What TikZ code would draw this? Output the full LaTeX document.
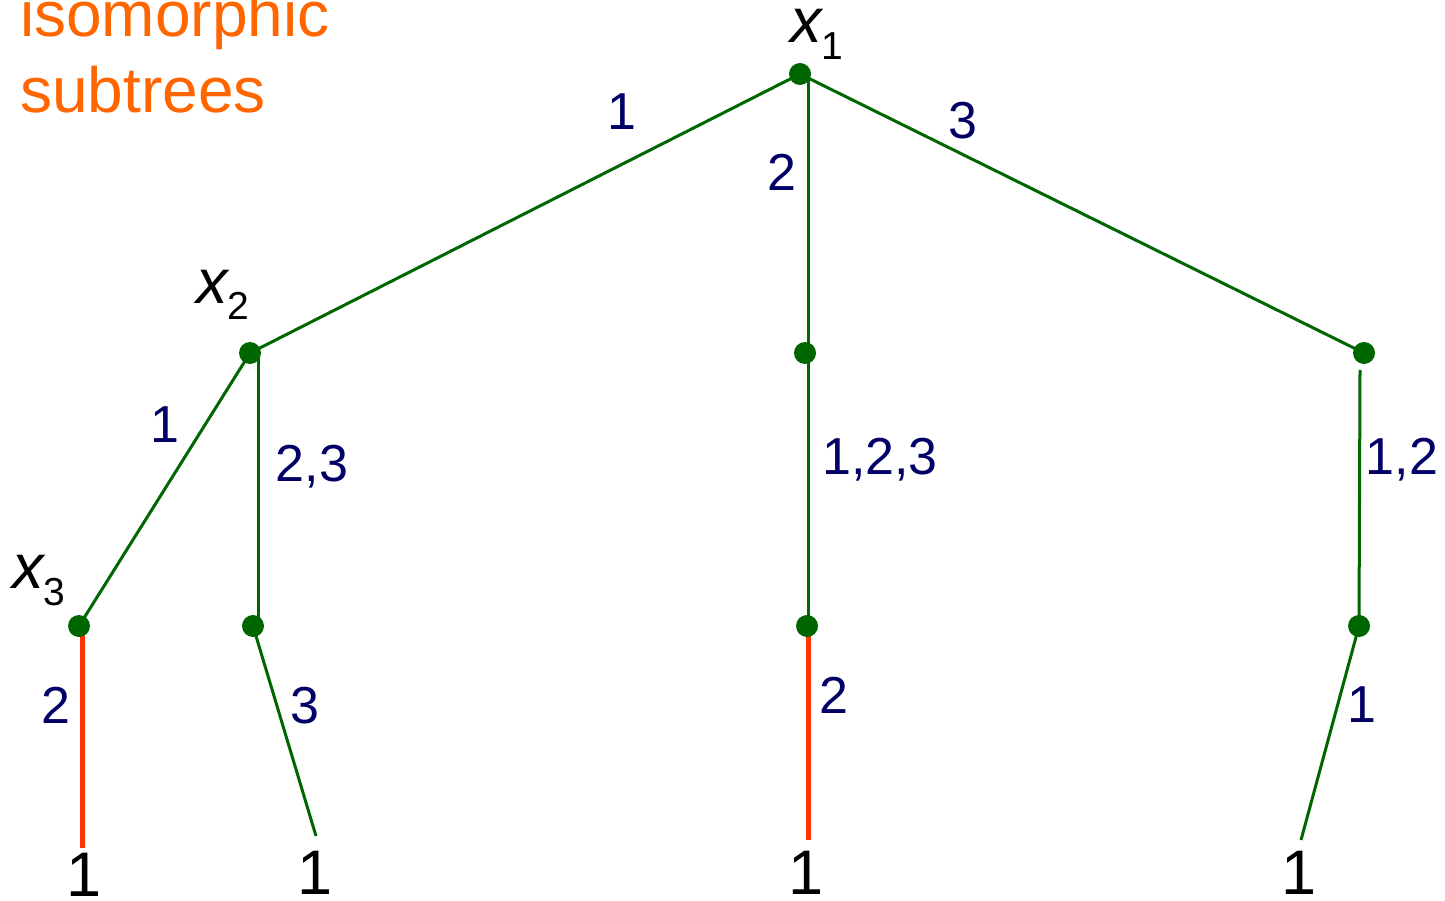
\documentclass[tikz,border=0pt]{standalone}
\usepackage{fontspec}
\setmainfont{Liberation Sans}
\usetikzlibrary{backgrounds}
\definecolor{tgreen}{RGB}{0,102,0}
\definecolor{tblue}{RGB}{0,0,102}
\definecolor{tred}{RGB}{255,51,0}
\definecolor{torange}{RGB}{255,102,0}
\begin{document}
\begin{tikzpicture}[x=1pt,y=-1pt,
  dot/.style={circle,fill=tgreen,inner sep=0pt,minimum size=22pt},
  gedge/.style={draw=tgreen,line width=3pt},
  redge/.style={draw=tred,line width=5pt},
  lab/.style={text=tblue,font=\fontsize{52}{60}\selectfont,inner sep=0pt,text depth=0pt},
  leaf/.style={font=\fontsize{63}{70}\selectfont,inner sep=0pt,anchor=base},
  vname/.style={font=\fontsize{63}{70}\selectfont,inner sep=0pt,anchor=base west},
  note/.style={text=torange,font=\fontsize{64}{76}\selectfont,inner sep=0pt,anchor=base west}]
\useasboundingbox (0,0) rectangle (1445,901);

% vertices
\node[dot] (r) at (800,74) {};
\node[dot] (a) at (250,353) {};
\node[dot] (b) at (805,353) {};
\node[dot] (c) at (1364,353) {};
\node[dot] (a1) at (79,626) {};
\node[dot] (a2) at (253,626) {};
\node[dot] (b1) at (807,626) {};
\node[dot] (c1) at (1359,626) {};

% leaf ends
\coordinate (e1) at (82,848);
\coordinate (e2) at (316,836);
\coordinate (e3) at (808,840);
\coordinate (e4) at (1301,840);

% leaves
\node[leaf] (l1) at (84,896) {1};
\node[leaf] (l2) at (315,894) {1};
\node[leaf] (l3) at (806,894) {1};
\node[leaf] (l4) at (1299,894) {1};

\begin{pgfonlayer}{background}
\draw[gedge] (r.center) -- (a.center);
\draw[gedge] ([xshift=8pt]r.center) -- ([xshift=3pt]b.center);
\draw[gedge] (r.center) -- (c.center);
\draw[gedge] (a.center) -- (a1.center);
\draw[gedge] ([xshift=8pt]a.center) -- ([xshift=5pt]a2.center);
\draw[gedge] ([xshift=3pt]b.center) -- ([xshift=1pt]b1.center);
\draw[gedge] ([xshift=-4pt,yshift=-17pt]c.center) -- (c1.center);
\draw[redge] ([xshift=3pt]a1.center) -- (e1);
\draw[gedge] (a2.center) -- (e2);
\draw[redge] ([xshift=1pt]b1.center) -- (e3);
\draw[gedge] (c1.center) -- (e4);
\end{pgfonlayer}

% vertex names
\node[vname] (n1) at (790,43) {\itshape x\upshape\raisebox{-17pt}{\fontsize{39}{40}\selectfont 1}};
\node[vname] (n2) at (196,303) {\itshape x\upshape\raisebox{-17pt}{\fontsize{39}{40}\selectfont 2}};
\node[vname] (n3) at (12,588) {\itshape x\upshape\raisebox{-17pt}{\fontsize{39}{40}\selectfont 3}};

% edge labels
\node[lab] (t1) at (622,112) {1};
\node[lab] (t2) at (782,172) {2};
\node[lab] (t3) at (963,120) {3};
\node[lab] (t4) at (165,425) {1};
\node[lab] (t5) at (312,463) {2,3};
\node[lab] (t6) at (880,456) {1,2,3};
\node[lab] (t7) at (1402,456) {1,2};
\node[lab] (t8) at (56,705) {2};
\node[lab] (t9) at (305,705) {3};
\node[lab] (t10) at (834,695) {2};
\node[lab] (t11) at (1362,705) {1};

% note
\node[note] (o1) at (20,37) {isomorphic};
\node[note] (o2) at (20,113) {subtrees};
\end{tikzpicture}
\end{document}
